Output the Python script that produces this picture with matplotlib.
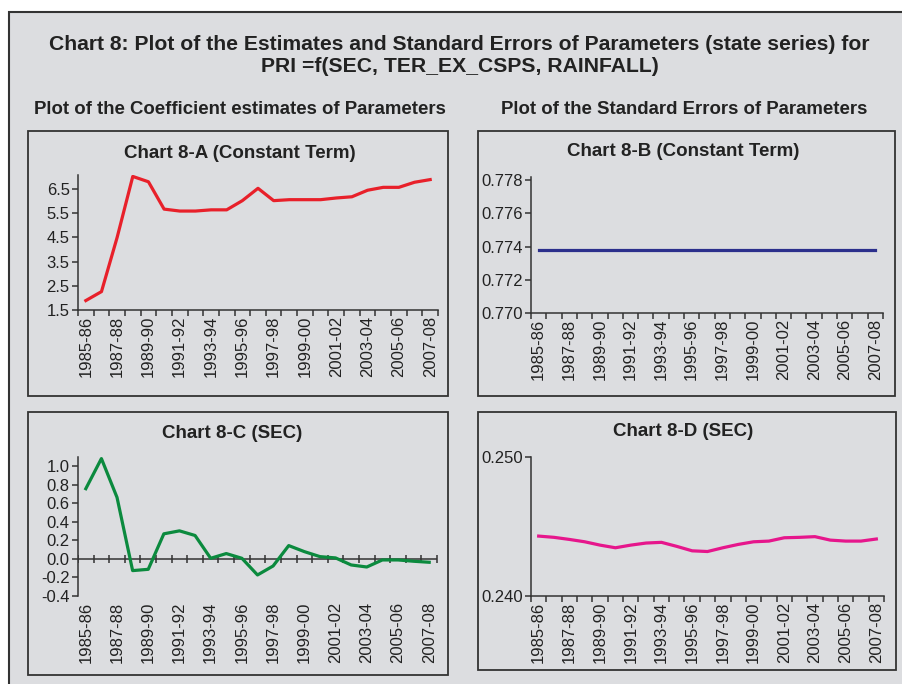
import matplotlib
matplotlib.use('Agg')
import matplotlib.pyplot as plt
from matplotlib.patches import Rectangle
import numpy as np

plt.rcParams['font.family'] = ['Liberation Sans', 'DejaVu Sans']

years = ['1985-86', '1986-87', '1987-88', '1988-89', '1989-90', '1990-91',
         '1991-92', '1992-93', '1993-94', '1994-95', '1995-96', '1996-97',
         '1997-98', '1998-99', '1999-00', '2000-01', '2001-02', '2002-03',
         '2003-04', '2004-05', '2005-06', '2006-07', '2007-08']

# coefficient estimates
const_coef = [1.89, 2.26, 4.50, 7.02, 6.80, 5.67, 5.59, 5.59, 5.64, 5.64, 6.02, 6.53,
              6.02, 6.06, 6.06, 6.06, 6.13, 6.18, 6.45, 6.57, 6.57, 6.78, 6.89]
sec_coef = [0.758, 1.083, 0.664, -0.126, -0.112, 0.271, 0.303, 0.253, 0.007, 0.058,
            0.007, -0.173, -0.076, 0.144, 0.079, 0.025, 0.011, -0.065, -0.087,
            -0.011, -0.011, -0.025, -0.036]

# standard errors
const_se = [0.77377] * 23
sec_se = [0.24431, 0.24422, 0.24407, 0.24390, 0.24366, 0.24347, 0.24366, 0.24381,
          0.24386, 0.24357, 0.24325, 0.24320, 0.24347, 0.24371, 0.24390, 0.24395,
          0.24419, 0.24422, 0.24427, 0.24402, 0.24395, 0.24395, 0.24410]

BG = '#dcdde0'
AX = '#333333'
TXT = '#222222'
W, H = 902, 684

fig = plt.figure(figsize=(W / 100, H / 100), dpi=100)
fig.patch.set_facecolor('white')


def fx(px):
    return px / W


def fy(py):
    return 1 - py / H


def box(x0, y0, x1, y1, fill=BG, lw=1.3):
    fig.patches.append(Rectangle((fx(x0), fy(y1)), fx(x1) - fx(x0), fy(y0) - fy(y1),
                                 transform=fig.transFigure, facecolor=fill,
                                 edgecolor=AX, linewidth=lw, zorder=-5))


# outer frame (runs off the right and bottom edges)
box(9, 12, 910, 700, lw=1.5)
# four panels
box(28, 131, 448, 396)
box(478, 131, 895, 396)
box(28, 412, 448, 675)
box(478, 412, 896, 670)

fig.text(fx(459), fy(44), 'Chart 8: Plot of the Estimates and Standard Errors of Parameters (state series) for',
         ha='center', va='center', fontsize=15.2, fontweight='bold', color=TXT)
fig.text(fx(460), fy(67), 'PRI =f(SEC, TER_EX_CSPS, RAINFALL)',
         ha='center', va='center', fontsize=15.2, fontweight='bold', color=TXT)
fig.text(fx(240), fy(109), 'Plot of the Coefficient estimates of Parameters',
         ha='center', va='center', fontsize=13.4, fontweight='bold', color=TXT)
fig.text(fx(684), fy(109), 'Plot of the Standard Errors of Parameters',
         ha='center', va='center', fontsize=13.4, fontweight='bold', color=TXT)


def make_axes(left, top, right, bottom):
    ax = fig.add_axes([fx(left), fy(bottom), fx(right) - fx(left), fy(top) - fy(bottom)])
    ax.set_facecolor('none')
    for s in ['top', 'right']:
        ax.spines[s].set_visible(False)
    for s in ['left', 'bottom']:
        ax.spines[s].set_color(AX)
        ax.spines[s].set_linewidth(1.1)
    x = np.arange(len(years))
    ax.set_xlim(-0.5, len(years) - 0.5)
    ax.set_xticks(x[::2])
    ax.set_xticklabels(years[::2], rotation=90)
    ax.set_xticks(np.arange(len(years) + 1) - 0.5, minor=True)
    ax.tick_params(axis='x', which='major', length=0, pad=4, labelsize=12, labelcolor=TXT)
    ax.tick_params(axis='x', which='minor', length=4, width=1.1, color=AX)
    ax.tick_params(axis='y', length=4, width=1.1, color=AX, labelsize=12,
                   labelcolor=TXT, pad=2)
    return ax, x


def panel_title(x, y, s):
    fig.text(fx(x), fy(y), s, ha='center', va='center', fontsize=13.5,
             fontweight='bold', color=TXT)


# Chart 8-A
ax, x = make_axes(78, 175, 438, 310)
ax.plot(x, const_coef, color='#e8202a', lw=2.3)
ax.set_ylim(1.5, 7.08)
ax.set_yticks(np.arange(1.5, 6.6, 1.0))
ax.set_yticklabels(['%.1f' % v for v in np.arange(1.5, 6.6, 1.0)])
panel_title(240, 153, 'Chart 8-A (Constant Term)')

# Chart 8-B
ax, x = make_axes(531, 177, 883, 313)
ax.plot(x, const_se, color='#2b2f8c', lw=2.3)
ax.set_ylim(0.770, 0.7782)
ax.set_yticks([0.770, 0.772, 0.774, 0.776, 0.778])
ax.set_yticklabels(['0.770', '0.772', '0.774', '0.776', '0.778'])
panel_title(683, 151, 'Chart 8-B (Constant Term)')

# Chart 8-C: category axis crosses at zero, labels kept at the bottom
ax, x = make_axes(78, 457, 437, 596)
ax.spines['bottom'].set_visible(False)
ax.tick_params(axis='x', which='minor', length=0)
ax.axhline(0, color=AX, lw=1.1, zorder=1)
ax.plot(np.arange(len(years) + 1) - 0.5, np.zeros(len(years) + 1), ls='none',
        marker='|', ms=6, mew=1.1, color=AX, zorder=1)
ax.plot(x, sec_coef, color='#0b8a3e', lw=2.3, zorder=2)
ax.set_ylim(-0.4, 1.1)
yt = [-0.4, -0.2, 0.0, 0.2, 0.4, 0.6, 0.8, 1.0]
ax.set_yticks(yt)
ax.set_yticklabels(['%.1f' % v for v in yt])
panel_title(232, 434, 'Chart 8-C (SEC)')

# Chart 8-D
ax, x = make_axes(531, 457, 884, 596)
ax.plot(x, sec_se, color='#e6168c', lw=2.3)
ax.set_ylim(0.240, 0.250)
ax.set_yticks([0.240, 0.250])
ax.set_yticklabels(['0.240', '0.250'])
panel_title(683, 431, 'Chart 8-D (SEC)')

fig.savefig('out.png', dpi=100, facecolor=fig.get_facecolor())
